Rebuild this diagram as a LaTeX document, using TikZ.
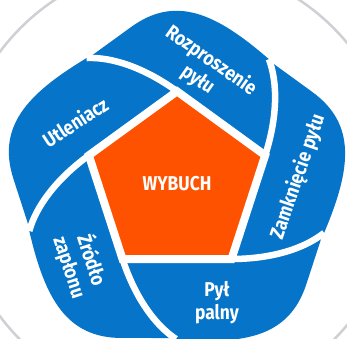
\documentclass[tikz,border=0pt]{standalone}
\usepackage{fontspec}
\newfontfamily\labfont[FakeStretch=0.87]{Fira Sans}
\definecolor{pblue}{RGB}{6,117,201}
\definecolor{porange}{RGB}{255,82,0}
\definecolor{ringgrey}{RGB}{208,208,212}
\tikzset{
  sepline/.style={white, line width=6.5pt},
  lab/.style={text=white, inner sep=0pt, font=\labfont\bfseries\fontsize{20}{23}\selectfont},
}
\newcommand{\drawpetal}{%
  \fill[pblue] (-54.49,-75) .. controls (-42.1,-113) and (-22.3,-141) .. (-1,-155)
     .. controls (68.7,-161.1) and (112.4,-152.3) .. (129.4,-100)
     -- (152.2,-30) -- (100,-30) -- (54.49,-75) -- cycle;
  \draw[sepline] (-54.49,-75) .. controls (-42.1,-113) and (-22.3,-141) .. (-1,-155);
}
\begin{document}
\begin{tikzpicture}[x=1pt,y=1pt]
\useasboundingbox (-177,-154) rectangle (170,184);
\fill[white] (-177,-154) rectangle (170,184);
\draw[ringgrey, line width=2.5pt] (0,0) circle[radius=221];
% petals, each on top of its clockwise neighbour
\begin{scope}[rotate=0]\drawpetal\end{scope}
\begin{scope}[rotate=72]\drawpetal\end{scope}
\begin{scope}[rotate=144]\drawpetal\end{scope}
\begin{scope}[rotate=216]\drawpetal\end{scope}
\begin{scope}[rotate=288]\drawpetal\end{scope}
% close the cycle: bottom petal over the lower-left one
\begin{scope}
  \clip (0,0) -- (200:300) -- (240:300) -- (285:300) -- cycle;
  \drawpetal
\end{scope}
% central pentagon
\filldraw[fill=porange, draw=white, line width=8pt]
  (90:92.705) -- (18:92.705) -- (-54:92.705) -- (-126:92.705) -- (162:92.705) -- cycle;
\node[lab] (wybuch) at (0,0) {WYBUCH};
\node[lab, align=center] (pyl) at (40,-119) {Pył\\palny};
\node[lab, rotate=71] (zamk) at (121,7) {Zamknięcie pyłu};
\node[lab, align=center, rotate=-35] (rozp) at (27.5,114) {Rozproszenie\\pyłu};
\node[lab, rotate=33] (utl) at (-102,62) {Utleniacz};
\node[lab, align=center, rotate=-72] (zrod) at (-96,-79.5) {Źródło\\zapłonu};
\end{tikzpicture}
\end{document}
